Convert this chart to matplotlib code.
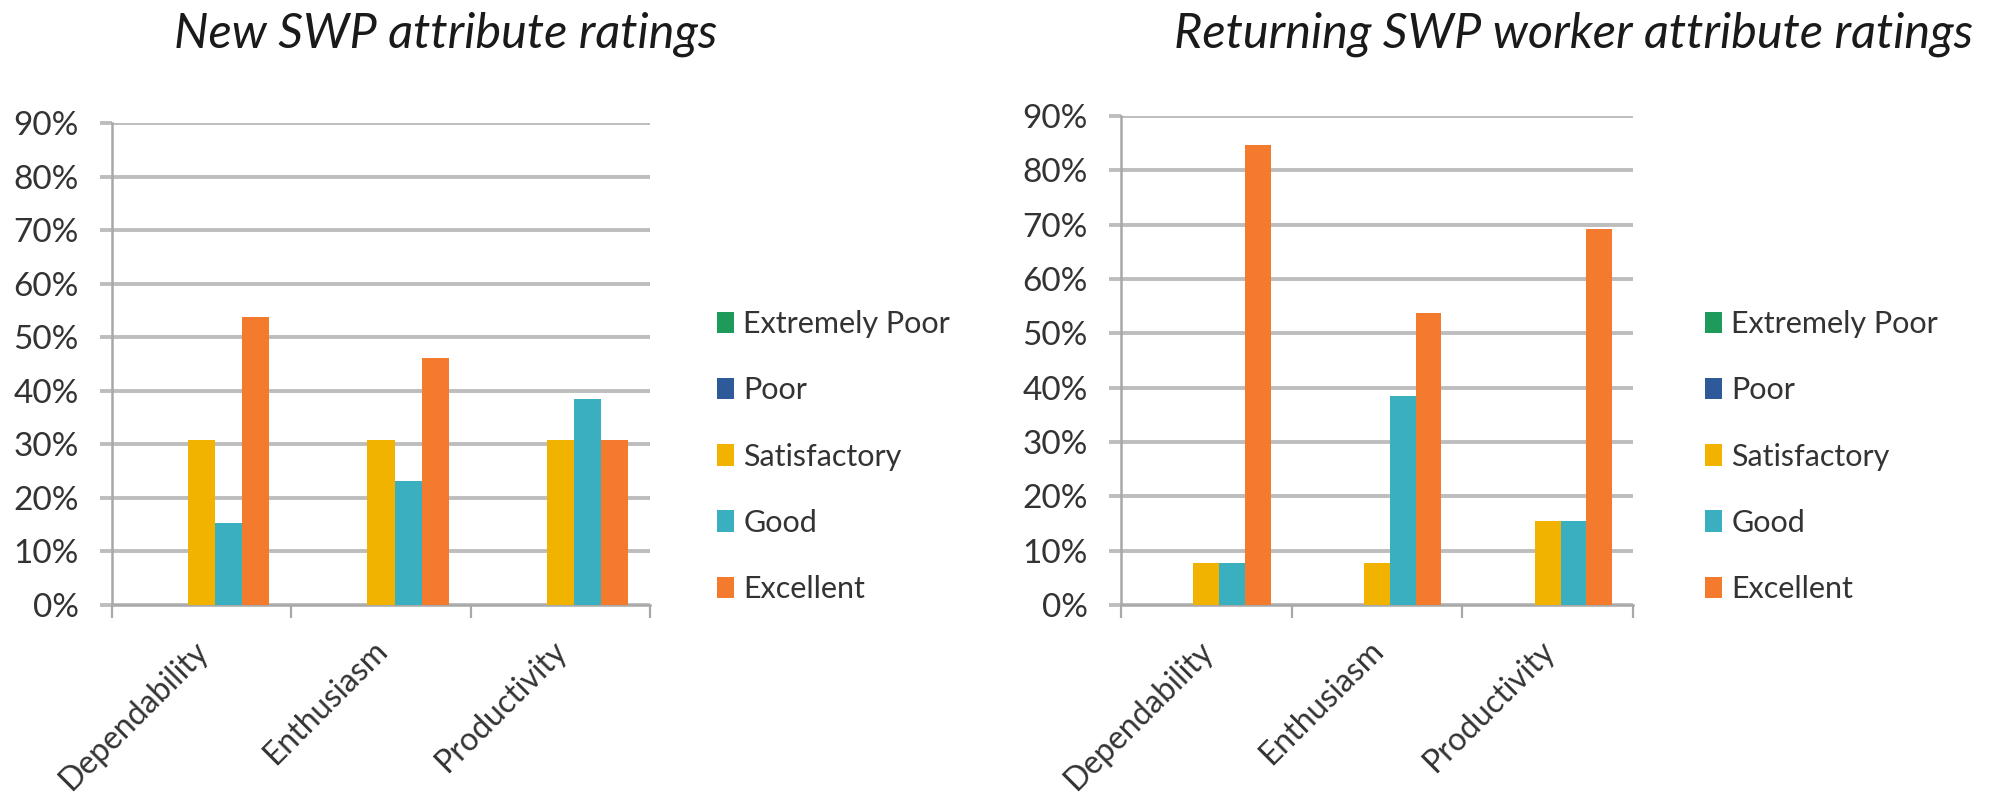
import numpy as np
import matplotlib
matplotlib.use("Agg")
import matplotlib.pyplot as plt
from matplotlib.ticker import PercentFormatter

plt.rcParams['font.family'] = ['Lato', 'DejaVu Sans']

categories = ["Dependability", "Enthusiasm", "Productivity"]
ratings = ["Extremely Poor", "Poor", "Satisfactory", "Good", "Excellent"]
colors = ["#1e9a5a", "#2f5a9a", "#f2b300", "#3aafc0", "#f47b2e"]

# share of workers per rating, one list per rating (Dependability, Enthusiasm, Productivity)
new_extremely_poor = [0.0, 0.0, 0.0]
new_poor = [0.0, 0.0, 0.0]
new_satisfactory = [30.8, 30.8, 30.8]
new_good = [15.4, 23.1, 38.5]
new_excellent = [53.8, 46.2, 30.8]

ret_extremely_poor = [0.0, 0.0, 0.0]
ret_poor = [0.0, 0.0, 0.0]
ret_satisfactory = [7.7, 7.7, 15.4]
ret_good = [7.7, 38.5, 15.4]
ret_excellent = [84.6, 53.8, 69.2]

new_series = [new_extremely_poor, new_poor, new_satisfactory, new_good, new_excellent]
ret_series = [ret_extremely_poor, ret_poor, ret_satisfactory, ret_good, ret_excellent]

grid_col = "#bdbdbd"
axis_col = "#a8a8a8"
text_col = "#333333"


def draw_panel(ax, series):
    x = np.arange(len(categories))
    w = 0.151
    for j, (vals, col, name) in enumerate(zip(series, colors, ratings)):
        ax.bar(x + (j - 2) * w, vals, width=w, color=col, label=name, zorder=3)
    ax.set_xlim(-0.5, 2.5)
    ax.set_ylim(0, 90)
    ax.set_yticks(np.arange(0, 91, 10))
    ax.yaxis.set_major_formatter(PercentFormatter(decimals=0))
    ax.grid(axis='y', color=grid_col, linewidth=2.8, zorder=0)
    ax.set_axisbelow(True)
    # label ticks are invisible; sit them slightly left so the slanted names end over the group
    ax.set_xticks(x - 0.05)
    ax.set_xticklabels(categories, rotation=45, ha='right', va='top',
                       rotation_mode='anchor', fontsize=23, color=text_col)
    ax.set_xticks([-0.5, 0.5, 1.5, 2.5], minor=True)
    ax.tick_params(axis='x', which='major', length=0, pad=22)
    ax.tick_params(axis='x', which='minor', length=9, width=1.6, color=axis_col)
    ax.tick_params(axis='y', length=9, width=2.8, color=grid_col,
                   labelsize=24, labelcolor=text_col, pad=15)
    for side in ['top', 'right']:
        ax.spines[side].set_visible(False)
    for side in ['left', 'bottom']:
        ax.spines[side].set_color(axis_col)
        ax.spines[side].set_linewidth(1.8)


fig = plt.figure(figsize=(19.92, 7.96), dpi=100)
W, H = 1992, 796

ax1 = fig.add_axes([112 / W, 1 - 605 / H, 538 / W, 482 / H])
ax2 = fig.add_axes([1121 / W, 1 - 605 / H, 512 / W, 489 / H])

draw_panel(ax1, new_series)
draw_panel(ax2, ret_series)

fig.text(446 / W, 1 - 34 / H, "New SWP attribute ratings", ha='center', va='center',
         fontsize=35, style='italic', color="#1a1a1a")
fig.text(1574 / W, 1 - 34 / H, "Returning SWP worker attribute ratings", ha='center',
         va='center', fontsize=35, style='italic', color="#1a1a1a")

for ax, lx in [(ax1, 702 / W), (ax2, 1690 / W)]:
    ax.legend(loc='upper left', bbox_to_anchor=(lx, 1 - 295 / H),
              bbox_transform=fig.transFigure, frameon=False, fontsize=22,
              handlelength=0.55, handleheight=0.7, handletextpad=0.3,
              labelspacing=1.25, labelcolor=text_col, borderpad=0)

fig.savefig("out.png", dpi=100)
